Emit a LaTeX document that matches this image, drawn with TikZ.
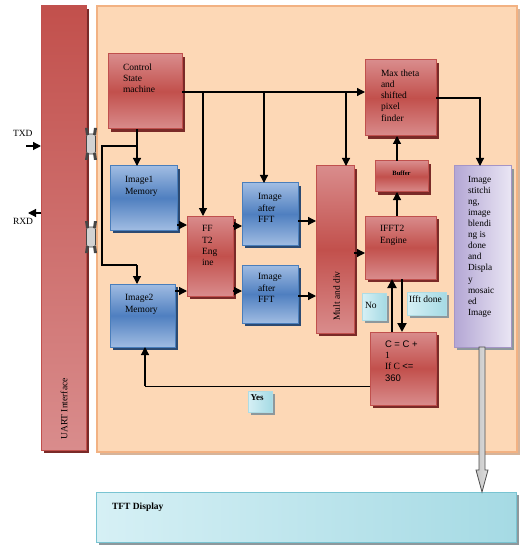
\documentclass[tikz,border=0pt]{standalone}
\usepackage{fontspec}
\setmainfont{Liberation Serif}
\newfontfamily\sansf{Liberation Sans}
\usetikzlibrary{shadows,arrows.meta}
\definecolor{redlt}{HTML}{D98C8C}
\definecolor{reddk}{HTML}{C2504C}
\definecolor{redbd}{HTML}{C0504D}
\definecolor{redsh}{HTML}{7A2A28}
\definecolor{bluelt}{HTML}{A0BCE2}
\definecolor{bluedk}{HTML}{4F7FC0}
\definecolor{bluebd}{HTML}{4A7EBB}
\definecolor{bluesh}{HTML}{2C4A72}
\definecolor{peach}{HTML}{FDD8B6}
\definecolor{peachbd}{HTML}{F2B283}
\definecolor{peachsh}{HTML}{D6B49A}
\definecolor{lavl}{HTML}{B3A6D4}
\definecolor{lavr}{HTML}{EAE6F4}
\definecolor{lavbd}{HTML}{A595C6}
\definecolor{cyanl}{HTML}{D6F0F5}
\definecolor{cyanr}{HTML}{A5DAE4}
\definecolor{cyanbd}{HTML}{79C4D2}
\definecolor{graysh}{HTML}{8E989C}
\tikzset{
  base/.style={inner sep=0pt, outer sep=0pt, line width=1pt},
  redbox/.style={base, draw=redbd, top color=redlt, bottom color=redlt, middle color=reddk,
    general shadow={fill=redsh, shadow xshift=3pt, shadow yshift=-3pt}},
  bluebox/.style={base, draw=bluebd, top color=bluelt, bottom color=bluelt, middle color=bluedk,
    general shadow={fill=bluesh, shadow xshift=3pt, shadow yshift=-3pt}},
  uartbox/.style={base, draw=redbd, top color=reddk, bottom color=redlt,
    general shadow={fill=redsh, shadow xshift=3pt, shadow yshift=-3pt}},
  bgbox/.style={base, line width=1.5pt, draw=peachbd, fill=peach,
    general shadow={fill=peachsh, shadow xshift=3pt, shadow yshift=-3pt}},
  stitchbox/.style={base, draw=lavbd, left color=lavl, right color=lavr,
    general shadow={fill=graysh, shadow xshift=3pt, shadow yshift=-3pt}},
  tftbox/.style={base, draw=cyanbd, left color=cyanl, right color=cyanr,
    general shadow={fill=graysh, shadow xshift=3pt, shadow yshift=-3pt}},
  lblbox/.style={base, line width=0.6pt, draw=cyanbd!60, left color=cyanl, right color=cyanr,
    general shadow={fill=graysh, shadow xshift=2.5pt, shadow yshift=-2.5pt}},
  txt/.style={inner sep=0pt, outer sep=0pt, align=left, anchor=north west,
    font=\fontsize{9.5}{11.3}\selectfont},
  arr/.style={line width=1.2pt, -{Triangle[length=8pt,width=8pt]}},
  thickarr/.style={line width=2pt, -{Triangle[length=9pt,width=9pt]}},
  ln/.style={line width=1.2pt},
  thinln/.style={line width=0.8pt},
  coupler/.style={fill=gray!35, draw=gray!55!black, line width=0.8pt, rounded corners=2.5pt},
  flare/.style={fill=gray!55!black},
  bigarrow/.style={draw=gray!60!black, line width=0.8pt, left color=gray!45, right color=gray!25}
}
\newcommand\mkbox[6]{\node[#6, anchor=north west, minimum width={#4-#2}, minimum height={#5-#3}] (#1) at (#2,#3) {};}
\begin{document}
\begin{tikzpicture}[x=1pt,y=-1pt]
\useasboundingbox (0,0) rectangle (521,553);
% containers
\mkbox{uart}{41}{6}{86}{450}{uartbox}
\mkbox{bg}{97}{6}{517}{452}{bgbox}
\mkbox{tft}{96}{492}{516}{542}{tftbox}
% couplers between UART and board
\foreach \yy [count=\i] in {128,221}{
  \draw[coupler] (86.5,\yy+6) rectangle (95.5,\yy+26);
  \fill[flare] (85,\yy) -- (88,\yy) -- (89,\yy+7) -- (86,\yy+7) -- cycle;
  \fill[flare] (97,\yy) -- (94,\yy) -- (93,\yy+7) -- (96,\yy+7) -- cycle;
  \fill[flare] (85,\yy+32) -- (88,\yy+32) -- (89,\yy+25) -- (86,\yy+25) -- cycle;
  \fill[flare] (97,\yy+32) -- (94,\yy+32) -- (93,\yy+25) -- (96,\yy+25) -- cycle;
}
% blocks
\mkbox{csm}{108}{54}{182}{129}{redbox}
\mkbox{im1}{110}{166}{177}{230}{bluebox}
\mkbox{im2}{110}{284}{175}{347}{bluebox}
\mkbox{fft}{187}{216}{233}{296}{redbox}
\mkbox{iaf1}{242}{183}{298}{245}{bluebox}
\mkbox{iaf2}{242}{265}{298}{323}{bluebox}
\mkbox{mult}{316}{166}{354}{333}{redbox}
\mkbox{max}{365}{60}{436}{136}{redbox}
\mkbox{buf}{375}{161}{428}{192}{redbox}
\mkbox{ifft}{365}{216}{436}{279}{redbox}
\mkbox{cbox}{370}{332}{436}{405}{redbox}
\mkbox{stitch}{454}{166}{511}{347}{stitchbox}
\mkbox{lno}{362}{293}{386}{320}{lblbox}
\mkbox{ldone}{407}{292}{446}{315}{lblbox}
\mkbox{lyes}{248}{391}{272}{412}{lblbox}
% texts
\node[txt] (tcsm) at (123,63.5) {Control\\State\\machine};
\node[txt] (tim1) at (125,176.5) {Image1\\Memory};
\node[txt] (tim2) at (125,294.5) {Image2\\Memory};
\node[txt] (tfft) at (202,225.5) {FF\\T2\\Eng\\ine};
\node[txt] (tiaf1) at (258,193.5) {Image\\after\\FFT};
\node[txt] (tiaf2) at (258,273.5) {Image\\after\\FFT};
\node[txt] (tmax) at (381,69.5) {Max theta\\and\\shifted\\pixel\\finder};
\node[txt] (tifft) at (380,225.5) {IFFT2\\Engine};
\node[inner sep=0pt, font=\fontsize{6.5}{7}\selectfont\bfseries] (tbuf) at (401.5,173.5) {Buffer};
\node[txt] (tc) at (385,340.5) {{\sansf C = C +}\\1\\If C {\sansf <=}\\{\sansf 360}};
\node[txt, font=\fontsize{9.3}{11.05}\selectfont] (tst) at (468,176.5) {Image\\stitchi\\ng,\\image\\blendi\\ng is\\done\\and\\Displa\\y\\mosaic\\ed\\Image};
\node[txt] (tno) at (365,302.5) {No};
\node[txt] (tdone) at (409,295.5) {Ifft done};
\node[txt, font=\fontsize{9}{11}\selectfont\bfseries] (tyes) at (250.5,394.5) {Yes};
\node[txt] (ttxd) at (13,130.5) {TXD};
\node[txt] (trxd) at (13,218.5) {RXD};
\node[txt, font=\fontsize{9.5}{11.3}\selectfont\bfseries] (ttft) at (112,503) {TFT Display};
\node[inner sep=0pt, rotate=90, font=\fontsize{9.5}{11.3}\selectfont] (tuart) at (64,409) {UART Interface};
\node[inner sep=0pt, rotate=90, font=\fontsize{9.5}{11.3}\selectfont] (tmult) at (336.5,296) {Mult and div};
% control connectors
\draw[arr] (csm.east |- 0,92) -- (max.west |- 0,92);
\draw[arr] (203,92) -- (203,0 |- fft.north);
\draw[arr] (264,92) -- (264,0 |- iaf1.north);
\draw[arr] (346,92) -- (346,0 |- mult.north);
\draw[arr] (137,0 |- csm.south) -- (137,0 |- im1.north);
\draw[ln] (137,146) -- (102,146) -- (102,265) -- (137,265);
\draw[arr] (137,265) -- (137,0 |- im2.north);
% data path
\draw[arr] (im1.east |- 0,225) -- (fft.west |- 0,225);
\draw[arr] (im2.east |- 0,291) -- (fft.west |- 0,291);
\draw[arr] (fft.east |- 0,226) -- (iaf1.west |- 0,226);
\draw[arr] (fft.east |- 0,291) -- (iaf2.west |- 0,291);
\draw[arr] (iaf1.east |- 0,221) -- (mult.west |- 0,221);
\draw[arr] (iaf2.east |- 0,296) -- (mult.west |- 0,296);
\draw[arr] (mult.east |- 0,253) -- (ifft.west |- 0,253);
\draw[arr] (397,0 |- ifft.north) -- (397,0 |- buf.south);
\draw[arr] (397,0 |- buf.north) -- (397,0 |- max.south);
\draw[arr] (max.east |- 0,98) -- (480,98) -- (480,0 |- stitch.north);
\draw[thickarr] (392,0 |- cbox.north) -- (392,0 |- ifft.south);
\draw[thickarr] (402,0 |- ifft.south) -- (402,0 |- cbox.north);
\draw[thinln] (cbox.west |- 0,386) -- (145,386);
\draw[arr] (145,386) -- (145,0 |- im2.south);
% UART signals
\draw[arr] (26,146) -- (uart.west |- 0,146);
\draw[arr] (uart.west |- 0,213) -- (28,213);
% output to display
\draw[bigarrow] (479,0 |- stitch.south) -- (485,0 |- stitch.south) -- (485,470) -- (488,470)
  -- (482,0 |- tft.north) -- (476,470) -- (479,470) -- cycle;
\end{tikzpicture}
\end{document}
